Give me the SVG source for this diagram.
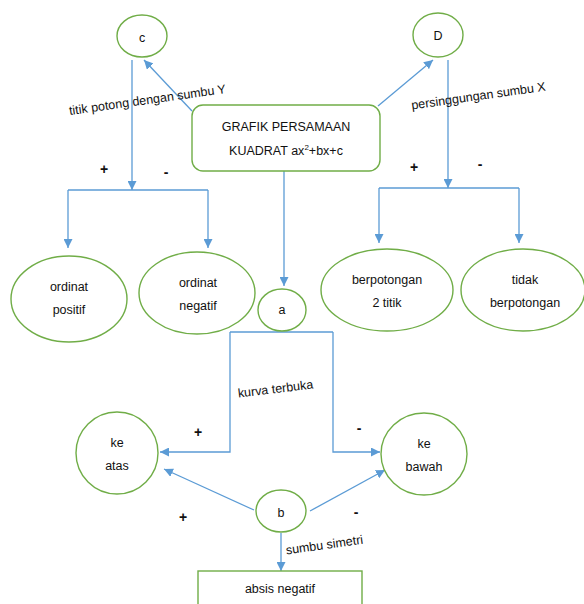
<svg xmlns="http://www.w3.org/2000/svg" width="584" height="604" viewBox="0 0 584 604">
<defs>
<marker id="ah" viewBox="0 0 10 10" refX="10" refY="5" markerWidth="9" markerHeight="9" markerUnits="userSpaceOnUse" orient="auto">
<path d="M0,0 L10,5 L0,10 z" fill="#5B9BD5"/>
</marker>
<style>
.n{fill:#fff;stroke:#70AD47;stroke-width:1.4}
.c{fill:none;stroke:#5B9BD5;stroke-width:1.3}
.a{marker-end:url(#ah)}
text{font-family:"Liberation Sans",Arial,sans-serif;font-size:12.5px;fill:#111;text-anchor:middle}
.s{font-weight:bold;font-size:14px}
</style>
</defs>
<rect width="584" height="604" fill="#fff"/>
<g id="connectors">
<line class="c a" x1="192" y1="111" x2="144" y2="60"/>
<line class="c a" x1="378" y1="106" x2="433" y2="60"/>
<line class="c a" x1="132" y1="60" x2="132" y2="190"/>
<polyline class="c" points="68,190 208,190"/>
<line class="c a" x1="68" y1="190" x2="68" y2="248"/>
<line class="c a" x1="208" y1="190" x2="208" y2="248"/>
<line class="c a" x1="448" y1="60" x2="448" y2="188"/>
<polyline class="c" points="379,188 519,188"/>
<line class="c a" x1="379" y1="188" x2="379" y2="243"/>
<line class="c a" x1="519" y1="188" x2="519" y2="243"/>
<line class="c a" x1="284" y1="171" x2="284" y2="286"/>
<polyline class="c" points="230,332 333,332"/>
<polyline class="c a" points="230,332 230,452 160,452"/>
<polyline class="c a" points="333,332 333,452 380,452"/>
<line class="c a" x1="254" y1="510" x2="164" y2="469"/>
<line class="c a" x1="310" y1="511" x2="385" y2="470"/>
<line class="c a" x1="281" y1="533" x2="281" y2="571"/>
</g>
<g id="main">
<rect class="n" x="192" y="105" width="188" height="66" rx="11"/>
<text x="286" y="131" font-size="12px">GRAFIK PERSAMAAN</text>
<text x="286" y="155" font-size="12px">KUADRAT ax<tspan font-size="8px" dy="-5">2</tspan><tspan dy="5">+bx+c</tspan></text>
</g>
<g id="node-c">
<ellipse class="n" cx="142" cy="36" rx="25" ry="21"/>
<text x="142" y="42">c</text>
</g>
<g id="node-D">
<ellipse class="n" cx="438" cy="35" rx="25" ry="22"/>
<text x="438" y="40">D</text>
</g>
<g id="node-ordinat-positif">
<ellipse class="n" cx="69" cy="299" rx="58" ry="43"/>
<text x="69" y="291">ordinat</text>
<text x="69" y="314">positif</text>
</g>
<g id="node-ordinat-negatif">
<ellipse class="n" cx="197" cy="293" rx="58" ry="41"/>
<text x="198" y="287">ordinat</text>
<text x="198" y="310">negatif</text>
</g>
<g id="node-a">
<ellipse class="n" cx="282" cy="310" rx="24" ry="21"/>
<text x="282" y="314">a</text>
</g>
<g id="node-berpotongan">
<ellipse class="n" cx="387" cy="290" rx="66" ry="41"/>
<text x="387" y="284">berpotongan</text>
<text x="387" y="307">2 titik</text>
</g>
<g id="node-tidak">
<ellipse class="n" cx="523" cy="290" rx="62" ry="41"/>
<text x="525" y="284">tidak</text>
<text x="525" y="307">berpotongan</text>
</g>
<g id="node-ke-atas">
<ellipse class="n" cx="117" cy="453" rx="41" ry="41"/>
<text x="117" y="447">ke</text>
<text x="117" y="470">atas</text>
</g>
<g id="node-ke-bawah">
<ellipse class="n" cx="424" cy="454" rx="43" ry="41"/>
<text x="424" y="448">ke</text>
<text x="424" y="471">bawah</text>
</g>
<g id="node-b">
<ellipse class="n" cx="281" cy="511" rx="25" ry="21"/>
<text x="281" y="517">b</text>
</g>
<g id="node-absis">
<rect class="n" x="198" y="571" width="164" height="40"/>
<text x="280" y="593">absis negatif</text>
</g>
<g id="labels">
<text x="148" y="104" transform="rotate(-8 148 104)">titik potong dengan sumbu  Y</text>
<text x="479" y="100" transform="rotate(-8 479 100)">persinggungan sumbu  X</text>
<text x="276" y="393" transform="rotate(-7 276 393)">kurva terbuka</text>
<text x="325" y="549" transform="rotate(-8 325 549)">sumbu simetri</text>
<text class="s" x="104" y="174">+</text>
<text class="s" x="166" y="177">-</text>
<text class="s" x="414" y="172">+</text>
<text class="s" x="480" y="169">-</text>
<text class="s" x="198" y="437">+</text>
<text class="s" x="359" y="433">-</text>
<text class="s" x="183" y="522">+</text>
<text class="s" x="356" y="517">-</text>
</g>
</svg>
